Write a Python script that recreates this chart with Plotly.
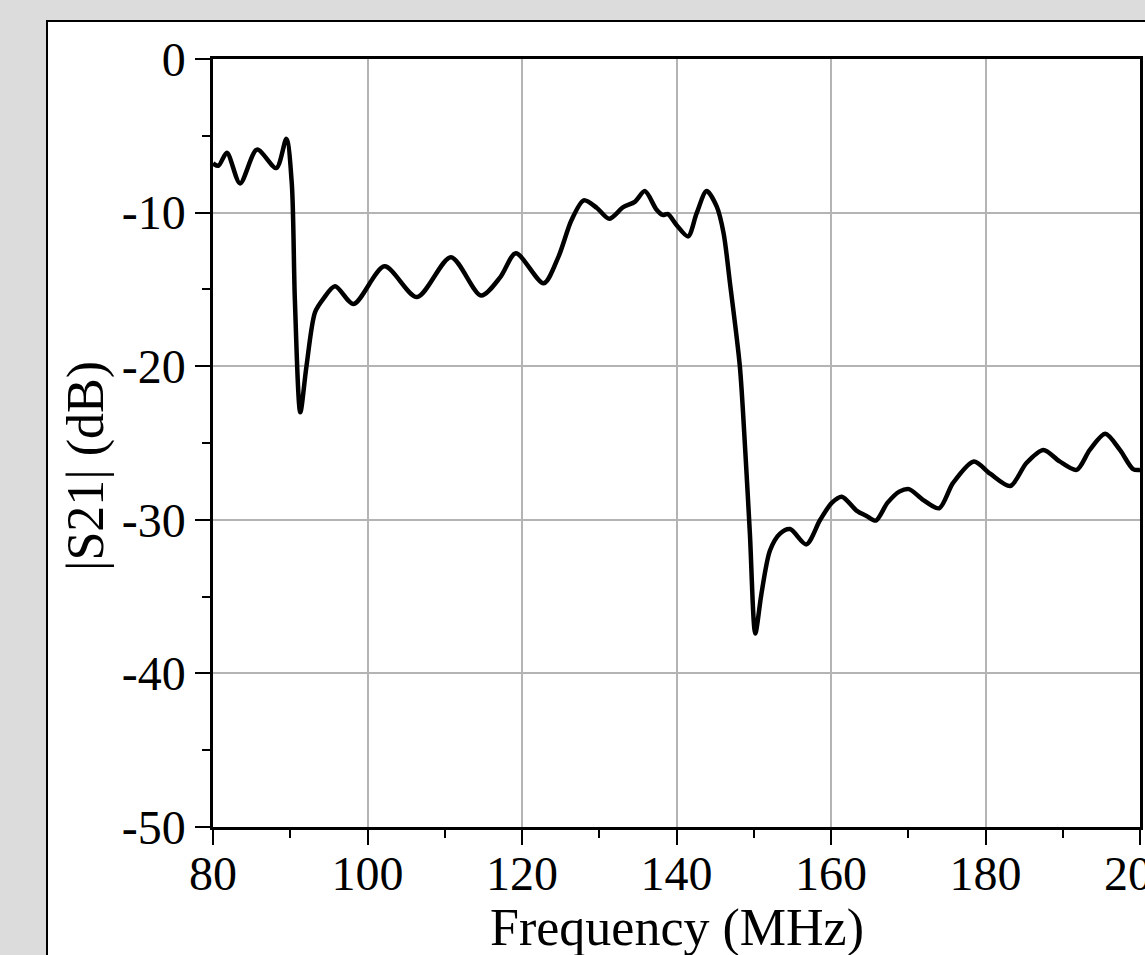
import plotly.graph_objects as go

freq_mhz = [80.0, 80.7, 81.8, 83.5, 85.7, 88.2, 89.5, 90.2, 90.6, 91.3, 92.1, 93.2, 94.3,
            95.8, 98.2, 102.2, 106.4, 110.8, 114.7, 117.2, 119.2, 122.8, 124.7, 126.4,
            128.0, 129.7, 131.3, 133.1, 134.6, 135.9, 137.4, 138.2, 138.9, 140.0, 141.5,
            142.6, 143.9, 145.2, 146.1, 146.9, 148.2, 148.9, 149.5, 150.2, 151.0, 152.1,
            153.4, 154.7, 156.8, 158.6, 160.1, 161.4, 163.3, 164.6, 165.8, 167.3, 168.9,
            170.1, 171.9, 174.0, 175.8, 178.5, 180.6, 183.2, 185.3, 187.5, 189.6, 191.8,
            193.5, 195.5, 197.4, 199.1, 200.0]
s21_db = [-6.8, -6.95, -6.1, -8.1, -5.9, -7.1, -5.2, -8.1, -15.7, -23.0, -20.0, -16.5, -15.6,
          -14.8, -15.95, -13.5, -15.5, -12.9, -15.4, -14.2, -12.65, -14.6, -12.9, -10.5,
          -9.2, -9.7, -10.4, -9.65, -9.3, -8.6, -9.8, -10.15, -10.1, -10.8, -11.55,
          -10.05, -8.6, -9.6, -11.35, -14.5, -20.0, -25.5, -30.9, -37.4, -34.8, -32.0,
          -30.9, -30.6, -31.6, -30.0, -28.9, -28.5, -29.4, -29.75, -30.05, -28.9, -28.15,
          -28.0, -28.7, -29.25, -27.6, -26.2, -27.0, -27.8, -26.3, -25.45, -26.2, -26.75,
          -25.45, -24.4, -25.45, -26.7, -26.75]

x_ticks = [80, 100, 120, 140, 160, 180, 200]
y_ticks = [0, -10, -20, -30, -40, -50]

W, H = 1145, 955
L, R, T, B = 213, 5, 59, 128
pw, ph = W - L - R, H - T - B

def px_x(p):
    return (p - L) / pw

def px_y(p):
    return (H - B - p) / ph

FONT = "Liberation Serif, Times New Roman, serif"

fig = go.Figure()
fig.add_trace(go.Scatter(x=freq_mhz, y=s21_db, mode="lines",
                         line=dict(color="black", width=4.5, shape="spline", smoothing=0.8),
                         showlegend=False, hoverinfo="skip"))

axis_common = dict(showline=True, linecolor="black", linewidth=2.5, mirror=True,
                   ticks="outside", ticklen=15, tickwidth=2, tickcolor="black",
                   showgrid=True, gridcolor="#b4b4b4", gridwidth=1.5, zeroline=False,
                   ticklabeloverflow="allow", automargin=False,
                   tickfont=dict(family=FONT, size=48, color="black"))

fig.update_xaxes(range=[80, 200], tickvals=x_ticks, ticktext=[str(v) for v in x_ticks],
                 ticklabelstandoff=-12,
                 minor=dict(ticks="outside", ticklen=8, tickwidth=2, tickcolor="black",
                            dtick=10, tick0=80, showgrid=False),
                 **axis_common)
fig.update_yaxes(range=[-50, 0], tickvals=y_ticks, ticktext=[str(v) for v in y_ticks],
                 minor=dict(ticks="outside", ticklen=8, tickwidth=2, tickcolor="black",
                            dtick=5, tick0=0, showgrid=False),
                 **axis_common)

# white panel with black border behind the chart
fig.add_shape(type="rect", xref="paper", yref="paper",
              x0=px_x(47), x1=px_x(1200), y0=px_y(1000), y1=px_y(21),
              line=dict(color="black", width=2), fillcolor="white", layer="below")

fig.add_annotation(text="Frequency (MHz)", xref="paper", yref="paper",
                   x=0.5, y=px_y(928), xanchor="center", yanchor="middle",
                   showarrow=False, font=dict(family=FONT, size=52, color="black"))
fig.add_annotation(text="|S21| (dB)", xref="paper", yref="paper",
                   x=px_x(86), y=px_y(466), xanchor="center", yanchor="middle",
                   textangle=-90, showarrow=False,
                   font=dict(family=FONT, size=52, color="black"))

fig.update_layout(width=W, height=H, margin=dict(l=L, r=R, t=T, b=B, pad=0, autoexpand=False),
                  paper_bgcolor="#dcdcdc", plot_bgcolor="white")

fig.write_html("out.html")
